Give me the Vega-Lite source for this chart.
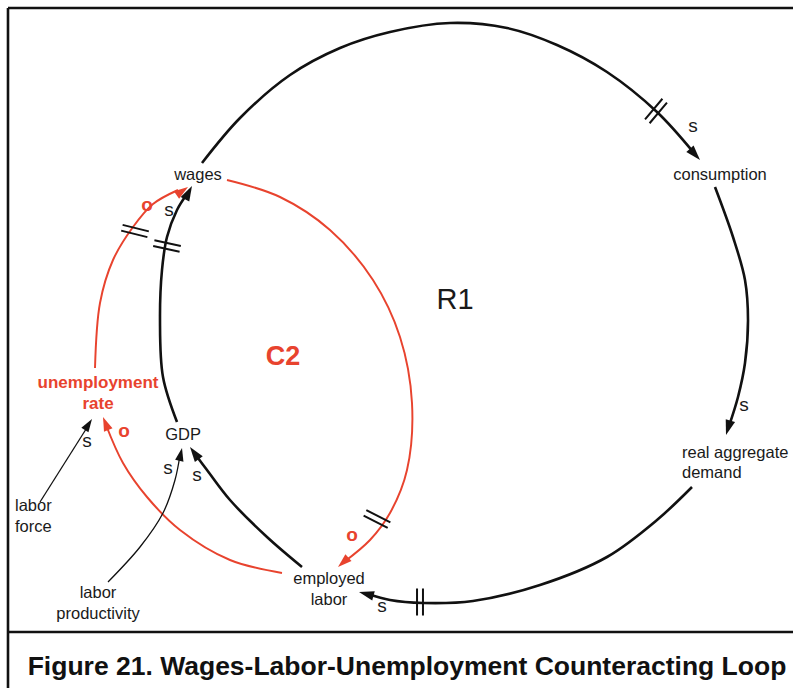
{
  "$schema": "https://vega.github.io/schema/vega-lite/v6.json",
  "width": 793,
  "height": 688,
  "autosize": "none",
  "padding": 0,
  "background": "white",
  "config": {"view": {"stroke": null}, "font": "Liberation Sans"},
  "datasets": {
    "frame": [
      {"part": "left", "x": 8, "y": 8, "x2": 8, "y2": 688},
      {"part": "top", "x": 8, "y": 8, "x2": 793, "y2": 8},
      {"part": "separator", "x": 8, "y": 632, "x2": 793, "y2": 632}
    ],
    "links": [
      {"link": "wages-consumption", "loop": "R", "weight": "heavy", "i": 0, "x": 202, "y": 163},
      {"link": "wages-consumption", "loop": "R", "weight": "heavy", "i": 1, "x": 240, "y": 118},
      {"link": "wages-consumption", "loop": "R", "weight": "heavy", "i": 2, "x": 290, "y": 75},
      {"link": "wages-consumption", "loop": "R", "weight": "heavy", "i": 3, "x": 340, "y": 48},
      {"link": "wages-consumption", "loop": "R", "weight": "heavy", "i": 4, "x": 390, "y": 32},
      {"link": "wages-consumption", "loop": "R", "weight": "heavy", "i": 5, "x": 450, "y": 23},
      {"link": "wages-consumption", "loop": "R", "weight": "heavy", "i": 6, "x": 507, "y": 28},
      {"link": "wages-consumption", "loop": "R", "weight": "heavy", "i": 7, "x": 557, "y": 45},
      {"link": "wages-consumption", "loop": "R", "weight": "heavy", "i": 8, "x": 607, "y": 72},
      {"link": "wages-consumption", "loop": "R", "weight": "heavy", "i": 9, "x": 657, "y": 112},
      {"link": "wages-consumption", "loop": "R", "weight": "heavy", "i": 10, "x": 694, "y": 153},
      {"link": "consumption-demand", "loop": "R", "weight": "heavy", "i": 0, "x": 715, "y": 187},
      {"link": "consumption-demand", "loop": "R", "weight": "heavy", "i": 1, "x": 733, "y": 237},
      {"link": "consumption-demand", "loop": "R", "weight": "heavy", "i": 2, "x": 745, "y": 280},
      {"link": "consumption-demand", "loop": "R", "weight": "heavy", "i": 3, "x": 748, "y": 320},
      {"link": "consumption-demand", "loop": "R", "weight": "heavy", "i": 4, "x": 745, "y": 363},
      {"link": "consumption-demand", "loop": "R", "weight": "heavy", "i": 5, "x": 738, "y": 397},
      {"link": "consumption-demand", "loop": "R", "weight": "heavy", "i": 6, "x": 729, "y": 426},
      {"link": "demand-employed", "loop": "R", "weight": "heavy", "i": 0, "x": 692, "y": 487},
      {"link": "demand-employed", "loop": "R", "weight": "heavy", "i": 1, "x": 657, "y": 520},
      {"link": "demand-employed", "loop": "R", "weight": "heavy", "i": 2, "x": 607, "y": 557},
      {"link": "demand-employed", "loop": "R", "weight": "heavy", "i": 3, "x": 540, "y": 585},
      {"link": "demand-employed", "loop": "R", "weight": "heavy", "i": 4, "x": 473, "y": 601},
      {"link": "demand-employed", "loop": "R", "weight": "heavy", "i": 5, "x": 423, "y": 603},
      {"link": "demand-employed", "loop": "R", "weight": "heavy", "i": 6, "x": 390, "y": 600},
      {"link": "demand-employed", "loop": "R", "weight": "heavy", "i": 7, "x": 368, "y": 594},
      {"link": "employed-GDP", "loop": "R", "weight": "heavy", "i": 0, "x": 302, "y": 567},
      {"link": "employed-GDP", "loop": "R", "weight": "heavy", "i": 1, "x": 267, "y": 537},
      {"link": "employed-GDP", "loop": "R", "weight": "heavy", "i": 2, "x": 230, "y": 500},
      {"link": "employed-GDP", "loop": "R", "weight": "heavy", "i": 3, "x": 207, "y": 470},
      {"link": "employed-GDP", "loop": "R", "weight": "heavy", "i": 4, "x": 195, "y": 454},
      {"link": "GDP-wages", "loop": "R", "weight": "heavy", "i": 0, "x": 177, "y": 422},
      {"link": "GDP-wages", "loop": "R", "weight": "heavy", "i": 1, "x": 163, "y": 377},
      {"link": "GDP-wages", "loop": "R", "weight": "heavy", "i": 2, "x": 160, "y": 320},
      {"link": "GDP-wages", "loop": "R", "weight": "heavy", "i": 3, "x": 162, "y": 270},
      {"link": "GDP-wages", "loop": "R", "weight": "heavy", "i": 4, "x": 167, "y": 237},
      {"link": "GDP-wages", "loop": "R", "weight": "heavy", "i": 5, "x": 177, "y": 210},
      {"link": "GDP-wages", "loop": "R", "weight": "heavy", "i": 6, "x": 187, "y": 194},
      {"link": "wages-employed", "loop": "C", "weight": "medium", "i": 0, "x": 227, "y": 180},
      {"link": "wages-employed", "loop": "C", "weight": "medium", "i": 1, "x": 280, "y": 197},
      {"link": "wages-employed", "loop": "C", "weight": "medium", "i": 2, "x": 330, "y": 230},
      {"link": "wages-employed", "loop": "C", "weight": "medium", "i": 3, "x": 373, "y": 280},
      {"link": "wages-employed", "loop": "C", "weight": "medium", "i": 4, "x": 400, "y": 337},
      {"link": "wages-employed", "loop": "C", "weight": "medium", "i": 5, "x": 412, "y": 403},
      {"link": "wages-employed", "loop": "C", "weight": "medium", "i": 6, "x": 407, "y": 470},
      {"link": "wages-employed", "loop": "C", "weight": "medium", "i": 7, "x": 390, "y": 513},
      {"link": "wages-employed", "loop": "C", "weight": "medium", "i": 8, "x": 370, "y": 540},
      {"link": "wages-employed", "loop": "C", "weight": "medium", "i": 9, "x": 344, "y": 562},
      {"link": "employed-unemployment", "loop": "C", "weight": "medium", "i": 0, "x": 282, "y": 573},
      {"link": "employed-unemployment", "loop": "C", "weight": "medium", "i": 1, "x": 230, "y": 560},
      {"link": "employed-unemployment", "loop": "C", "weight": "medium", "i": 2, "x": 180, "y": 530},
      {"link": "employed-unemployment", "loop": "C", "weight": "medium", "i": 3, "x": 147, "y": 497},
      {"link": "employed-unemployment", "loop": "C", "weight": "medium", "i": 4, "x": 123, "y": 463},
      {"link": "employed-unemployment", "loop": "C", "weight": "medium", "i": 5, "x": 106, "y": 425},
      {"link": "unemployment-wages", "loop": "C", "weight": "medium", "i": 0, "x": 95, "y": 368},
      {"link": "unemployment-wages", "loop": "C", "weight": "medium", "i": 1, "x": 100, "y": 303},
      {"link": "unemployment-wages", "loop": "C", "weight": "medium", "i": 2, "x": 113, "y": 260},
      {"link": "unemployment-wages", "loop": "C", "weight": "medium", "i": 3, "x": 133, "y": 227},
      {"link": "unemployment-wages", "loop": "C", "weight": "medium", "i": 4, "x": 153, "y": 204},
      {"link": "unemployment-wages", "loop": "C", "weight": "medium", "i": 5, "x": 178, "y": 190},
      {"link": "laborforce-unemployment", "loop": "R", "weight": "light", "i": 0, "x": 40, "y": 502},
      {"link": "laborforce-unemployment", "loop": "R", "weight": "light", "i": 1, "x": 88, "y": 426},
      {"link": "productivity-GDP", "loop": "R", "weight": "light", "i": 0, "x": 108, "y": 582},
      {"link": "productivity-GDP", "loop": "R", "weight": "light", "i": 1, "x": 140, "y": 547},
      {"link": "productivity-GDP", "loop": "R", "weight": "light", "i": 2, "x": 163, "y": 513},
      {"link": "productivity-GDP", "loop": "R", "weight": "light", "i": 3, "x": 175, "y": 480},
      {"link": "productivity-GDP", "loop": "R", "weight": "light", "i": 4, "x": 180, "y": 455}
    ],
    "heads": [
      {"to": "consumption", "loop": "R", "weight": "heavy", "x": 700, "y": 160, "ang": 138},
      {"to": "real aggregate demand", "loop": "R", "weight": "heavy", "x": 726, "y": 435, "ang": 197},
      {"to": "employed labor", "loop": "R", "weight": "heavy", "x": 359, "y": 592, "ang": 285},
      {"to": "GDP", "loop": "R", "weight": "heavy", "x": 190, "y": 447, "ang": 324},
      {"to": "wages", "loop": "R", "weight": "heavy", "x": 192, "y": 186, "ang": 28},
      {"to": "wages", "loop": "C", "weight": "medium", "x": 188, "y": 187, "ang": 55},
      {"to": "employed labor", "loop": "C", "weight": "medium", "x": 338, "y": 567, "ang": 228},
      {"to": "unemployment rate", "loop": "C", "weight": "medium", "x": 103, "y": 417, "ang": 338},
      {"to": "unemployment rate", "loop": "R", "weight": "light", "x": 92, "y": 419, "ang": 33},
      {"to": "GDP", "loop": "R", "weight": "light", "x": 182, "y": 448, "ang": 12}
    ],
    "delays": [
      {"on": "wages-consumption", "x": 656, "y": 111, "ang": 310},
      {"on": "demand-employed", "x": 420, "y": 602, "ang": 90},
      {"on": "GDP-wages", "x": 167, "y": 246, "ang": 12},
      {"on": "unemployment-wages", "x": 135, "y": 231, "ang": 14},
      {"on": "wages-employed", "x": 377, "y": 519, "ang": 27}
    ],
    "nodes": [
      {"label": "wages", "x": 198, "y": 175},
      {"label": "consumption", "x": 720, "y": 175},
      {"label": "GDP", "x": 183, "y": 435},
      {"label": "employed", "x": 329, "y": 579},
      {"label": "labor", "x": 329, "y": 600},
      {"label": "labor", "x": 98, "y": 593},
      {"label": "productivity", "x": 98, "y": 614}
    ],
    "nodesLeft": [
      {"label": "real aggregate", "x": 682, "y": 453},
      {"label": "demand", "x": 682, "y": 473},
      {"label": "labor", "x": 15, "y": 506},
      {"label": "force", "x": 15, "y": 527}
    ],
    "keyNode": [
      {"label": "unemployment", "x": 98, "y": 383},
      {"label": "rate", "x": 98, "y": 404}
    ],
    "same": [
      {"label": "s", "x": 169, "y": 210},
      {"label": "s", "x": 693, "y": 126},
      {"label": "s", "x": 744, "y": 405},
      {"label": "s", "x": 382, "y": 606},
      {"label": "s", "x": 87, "y": 441},
      {"label": "s", "x": 168, "y": 468},
      {"label": "s", "x": 197, "y": 475}
    ],
    "opposite": [
      {"label": "o", "x": 147, "y": 205},
      {"label": "o", "x": 352, "y": 535},
      {"label": "o", "x": 124, "y": 431}
    ],
    "loopR": [{"label": "R1", "x": 455, "y": 300}],
    "loopC": [{"label": "C2", "x": 283, "y": 357}],
    "caption": [{"label": "Figure 21. Wages-Labor-Unemployment Counteracting Loop", "x": 407, "y": 675}]
  },
  "encoding": {
    "x": {"field": "x", "type": "quantitative", "scale": {"domain": [0, 793], "nice": false, "zero": false}, "axis": null},
    "y": {"field": "y", "type": "quantitative", "scale": {"domain": [688, 0], "nice": false, "zero": false}, "axis": null}
  },
  "layer": [
    {
      "data": {"name": "frame"},
      "mark": {"type": "rule", "color": "#111111", "strokeWidth": 2.6},
      "encoding": {
        "x2": {"field": "x2"},
        "y2": {"field": "y2"}
      }
    },
    {
      "data": {"name": "links"},
      "mark": {"type": "line", "interpolate": "catmull-rom", "strokeCap": "butt"},
      "encoding": {
        "detail": {"field": "link", "type": "nominal"},
        "order": {"field": "i", "type": "quantitative"},
        "color": {"field": "loop", "type": "nominal", "scale": {"domain": ["R", "C"], "range": ["#111111", "#e8432e"]}, "legend": null},
        "strokeWidth": {"field": "weight", "type": "ordinal", "scale": {"domain": ["heavy", "medium", "light"], "range": [2.6, 1.3, 1.1]}, "legend": null}
      }
    },
    {
      "data": {"name": "heads"},
      "mark": {"type": "point", "shape": "M0,0L-0.65,2L0.65,2Z", "filled": true, "opacity": 1, "strokeWidth": 0},
      "encoding": {
        "color": {"field": "loop", "type": "nominal", "scale": {"domain": ["R", "C"], "range": ["#111111", "#e8432e"]}, "legend": null},
        "size": {"field": "weight", "type": "ordinal", "scale": {"domain": ["heavy", "medium", "light"], "range": [225, 170, 90]}, "legend": null},
        "angle": {"field": "ang", "type": "quantitative", "scale": null}
      }
    },
    {
      "data": {"name": "delays"},
      "mark": {"type": "point", "shape": "M-1,-0.22L1,-0.22M-1,0.22L1,0.22", "filled": false, "stroke": "#111111", "strokeWidth": 2, "size": 729, "opacity": 1},
      "encoding": {
        "angle": {"field": "ang", "type": "quantitative", "scale": null}
      }
    },
    {
      "data": {"name": "nodes"},
      "mark": {"type": "text", "align": "center", "baseline": "middle", "fontSize": 16.5, "color": "#1a1a1a"},
      "encoding": {"text": {"field": "label"}}
    },
    {
      "data": {"name": "nodesLeft"},
      "mark": {"type": "text", "align": "left", "baseline": "middle", "fontSize": 16.5, "color": "#1a1a1a"},
      "encoding": {"text": {"field": "label"}}
    },
    {
      "data": {"name": "keyNode"},
      "mark": {"type": "text", "align": "center", "baseline": "middle", "fontSize": 17, "fontWeight": "bold", "color": "#e8432e"},
      "encoding": {"text": {"field": "label"}}
    },
    {
      "data": {"name": "same"},
      "mark": {"type": "text", "align": "center", "baseline": "middle", "fontSize": 19, "color": "#1a1a1a"},
      "encoding": {"text": {"field": "label"}}
    },
    {
      "data": {"name": "opposite"},
      "mark": {"type": "text", "align": "center", "baseline": "middle", "fontSize": 19, "fontWeight": "bold", "color": "#e8432e"},
      "encoding": {"text": {"field": "label"}}
    },
    {
      "data": {"name": "loopR"},
      "mark": {"type": "text", "align": "center", "baseline": "middle", "fontSize": 29, "color": "#1a1a1a"},
      "encoding": {"text": {"field": "label"}}
    },
    {
      "data": {"name": "loopC"},
      "mark": {"type": "text", "align": "center", "baseline": "middle", "fontSize": 27, "fontWeight": "bold", "color": "#e8432e"},
      "encoding": {"text": {"field": "label"}}
    },
    {
      "data": {"name": "caption"},
      "mark": {"type": "text", "align": "center", "baseline": "alphabetic", "fontSize": 26.5, "fontWeight": "bold", "color": "#111111"},
      "encoding": {"text": {"field": "label"}}
    }
  ]
}
